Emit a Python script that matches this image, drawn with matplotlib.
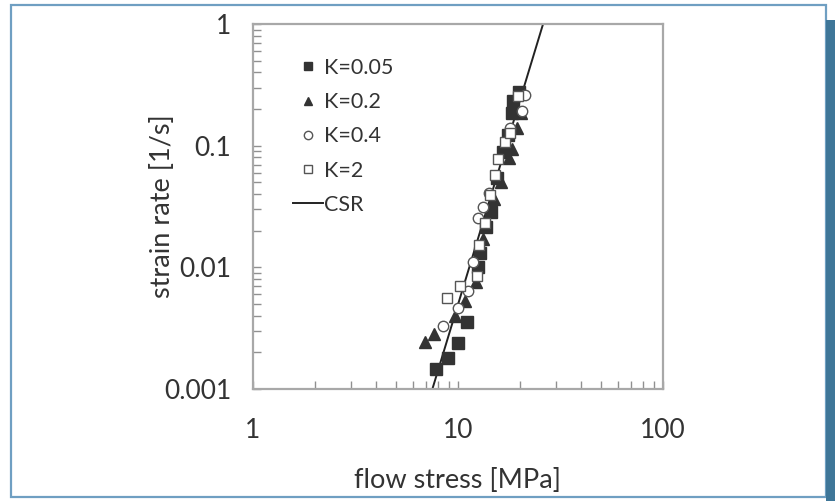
import numpy as np
import matplotlib
matplotlib.use('Agg')
import matplotlib.pyplot as plt
from matplotlib.patches import Rectangle

plt.rcParams['font.family'] = ['Lato', 'DejaVu Sans']

# K=0.05 (filled squares)
k005_stress = [7.85, 8.89, 9.95, 11.01, 12.45, 12.74, 13.63, 14.42, 15.43, 16.51, 17.47, 18.27, 18.48, 19.76]
k005_rate = [0.00146, 0.00180, 0.00240, 0.00358, 0.0100, 0.0130, 0.0214, 0.0285, 0.0544, 0.0892, 0.123, 0.187, 0.235, 0.274]

# K=0.2 (filled triangles)
k02_stress = [6.93, 7.67, 9.72, 10.76, 12.18, 13.18, 14.92, 16.14, 17.66, 18.27, 19.32, 20.21]
k02_rate = [0.00245, 0.00285, 0.00401, 0.00524, 0.00752, 0.0170, 0.0365, 0.0504, 0.0796, 0.0944, 0.141, 0.187]

# K=0.4 (open circles)
k04_stress = [8.49, 10.05, 11.25, 11.77, 12.45, 13.18, 14.09, 17.86, 20.45, 21.15]
k04_rate = [0.00332, 0.00467, 0.00634, 0.0110, 0.0254, 0.0313, 0.0409, 0.141, 0.191, 0.259]

# K=2 (open squares)
k2_stress = [8.79, 10.28, 12.31, 12.59, 13.48, 14.26, 15.08, 15.60, 16.88, 17.86, 19.54]
k2_rate = [0.00555, 0.00697, 0.00843, 0.0152, 0.0231, 0.0394, 0.0576, 0.0781, 0.108, 0.128, 0.254]

# CSR line
csr_stress = [7.5, 26.0]
csr_rate = [0.001, 1.0]

fig = plt.figure(figsize=(8.35, 5.01), dpi=100)

# page frame
fig.patches.append(Rectangle((11/835, 1-497/501), 815/835, 492/501, transform=fig.transFigure,
                             fill=False, edgecolor='#6f9fc2', linewidth=1.6, zorder=0))
fig.patches.append(Rectangle((826/835, 0), 9/835, 481/501, transform=fig.transFigure,
                             facecolor='#3e7698', edgecolor='none', zorder=0))

ax = fig.add_axes([253/835, 1-389/501, 410/835, 365/501])

dark = '#333333'
ax.plot(k005_stress, k005_rate, 's', color=dark, markersize=8, markeredgecolor=dark, label='K=0.05', zorder=3)
ax.plot(k02_stress, k02_rate, '^', color=dark, markersize=8, markeredgecolor=dark, label='K=0.2', zorder=3)
ax.plot(k04_stress, k04_rate, 'o', markerfacecolor='white', markeredgecolor='#555555', markersize=7.5,
        markeredgewidth=1.0, label='K=0.4', zorder=4)
ax.plot(k2_stress, k2_rate, 's', markerfacecolor='white', markeredgecolor='#555555', markersize=7.5,
        markeredgewidth=1.0, label='K=2', zorder=4)
ax.plot(csr_stress, csr_rate, '-', color='#222222', linewidth=1.4, label='CSR', zorder=2)

ax.set_xscale('log')
ax.set_yscale('log')
ax.set_xlim(1, 100)
ax.set_ylim(0.001, 1)

ax.set_xticks([1, 10, 100])
ax.set_xticklabels(['1', '10', '100'])
ax.set_yticks([0.001, 0.01, 0.1, 1])
ax.set_yticklabels(['0.001', '0.01', '0.1', '1'])

for s in ax.spines.values():
    s.set_color('#a8a8a8')
    s.set_linewidth(1.6)

ax.tick_params(which='both', direction='in', top=False, right=False, color='#909090', width=1.0)
ax.tick_params(which='major', length=6)
ax.tick_params(which='minor', length=6)
ax.tick_params(axis='x', which='major', pad=21, labelsize=19, labelcolor=dark)
ax.tick_params(axis='y', which='major', pad=15.5, labelsize=19, labelcolor=dark)

ax.set_xlabel('flow stress [MPa]', fontsize=19.5, color=dark, labelpad=18)
ax.set_ylabel('strain rate [1/s]', fontsize=19.5, color=dark)
ax.yaxis.set_label_coords(-0.19, 0.5)

leg = ax.legend(loc='upper left', bbox_to_anchor=(0.098, 0.907), frameon=False, fontsize=15.5,
                markerscale=0.8, handlelength=1.4, handletextpad=0.05, labelspacing=0.66,
                borderpad=0, borderaxespad=0)
for t in leg.get_texts():
    t.set_color(dark)

fig.savefig('out.png', dpi=100, facecolor='white')
